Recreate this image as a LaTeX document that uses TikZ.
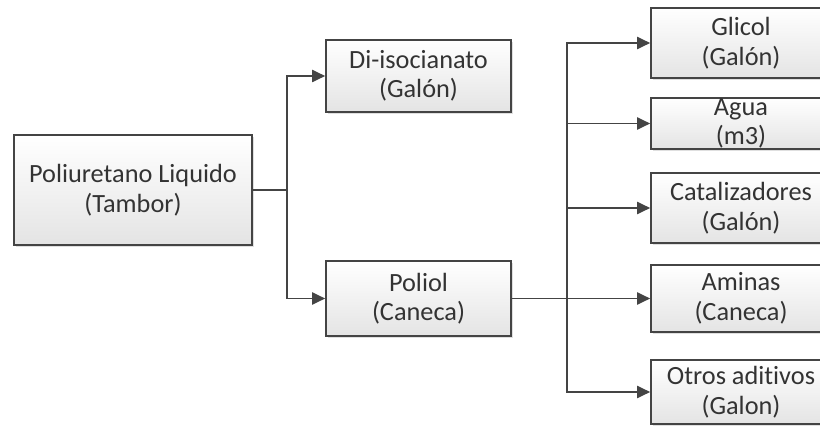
\documentclass[tikz,border=0pt]{standalone}
\usepackage{fontspec}
\setmainfont[Ligatures=NoCommon]{Carlito}
\usetikzlibrary{arrows.meta,shadows}
\definecolor{linec}{HTML}{444444}
\definecolor{textc}{HTML}{333333}
\definecolor{boxbot}{HTML}{E4E4E4}
\tikzset{
  box/.style={draw=linec, line width=1.6pt, top color=white, bottom color=boxbot,
    drop shadow={shadow xshift=2pt, shadow yshift=-2pt, opacity=0.25, fill=gray},
    inner sep=0pt},
  lbl/.style={text=textc, align=center, font=\fontsize{26.3}{29.5}\selectfont, inner sep=0pt},
  conn/.style={draw=linec, line width=1.9pt},
  arr/.style={conn, -{Triangle[length=13pt,width=12pt]}},
}
\begin{document}
\begin{tikzpicture}[x=1pt,y=-1pt]
\useasboundingbox (0,0) rectangle (820,433);
\clip (0,0) rectangle (820,433);
\fill[white] (0,0) rectangle (820,433);
% boxes
\node[box, minimum width=238pt, minimum height=110pt] (tambor) at (133,190) {};
\node[box, minimum width=185pt, minimum height=72pt] (diiso) at (418.5,76) {};
\node[box, minimum width=185pt, minimum height=75pt] (poliol) at (418.5,298.5) {};
\node[box, minimum width=180pt, minimum height=70pt] (glicol) at (741,43) {};
\node[box, minimum width=180pt, minimum height=51pt] (agua) at (741,123.5) {};
\node[box, minimum width=180pt, minimum height=70pt] (catal) at (741,208) {};
\node[box, minimum width=180pt, minimum height=67pt] (aminas) at (741,298.5) {};
\node[box, minimum width=180pt, minimum height=64pt] (otros) at (741,392) {};
% labels
\node[lbl] (tamborl) at (tambor) {Poliuretano Liquido\\(Tambor)};
\node[lbl] (diisol) at (diiso) {Di-isocianato\\(Galón)};
\node[lbl] (polioll) at (poliol) {Poliol\\(Caneca)};
\node[lbl] (glicoll) at (glicol) {Glicol\\(Galón)};
\node[lbl] (agual) at (agua) {Agua\\(m3)};
\node[lbl] (catall) at (catal) {Catalizadores\\(Galón)};
\node[lbl] (aminasl) at (aminas) {Aminas\\(Caneca)};
\node[lbl] (otrosl) at (otros) {Otros aditivos\\(Galon)};
% connectors
\coordinate (j1) at (287,190);
\coordinate (j2) at (567,298.5);
\draw[conn] (tambor.east) -- (j1);
\draw[arr] (j1) |- (diiso.west);
\draw[arr] (j1) |- (poliol.west);
\draw[conn] (poliol.east) -- (j2);
\draw[arr] (j2) |- (glicol.west);
\draw[arr] (j2) |- (agua.west);
\draw[arr] (j2) |- (catal.west);
\draw[arr] (j2) -- (aminas.west);
\draw[arr] (j2) |- (otros.west);
\end{tikzpicture}
\end{document}
